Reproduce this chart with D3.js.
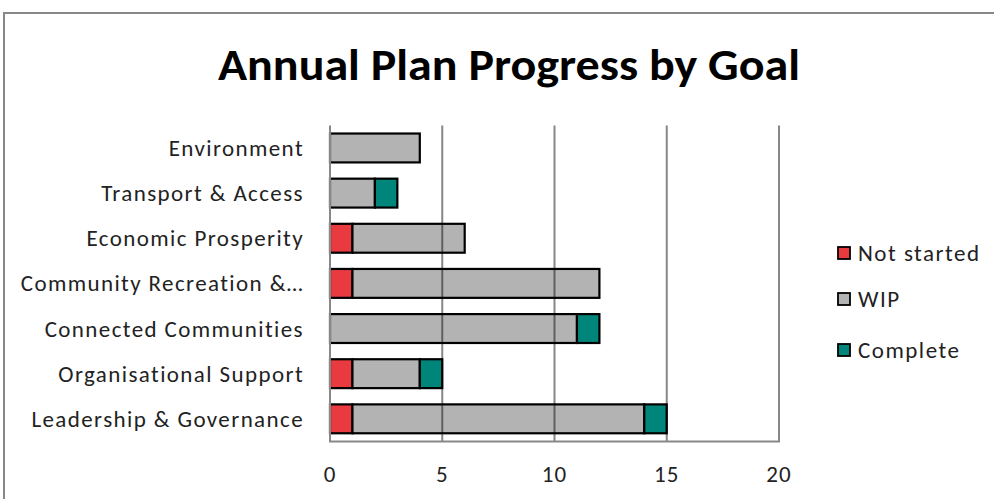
<!DOCTYPE html>
<html><head><meta charset="utf-8">
<script src="https://cdn.jsdelivr.net/npm/d3@7"></script>
<style>html,body{margin:0;padding:0;background:#fff;}svg{display:block;}</style>
</head><body><svg id="c" width="994" height="499"></svg>
<script>
const categories = ["Environment","Transport & Access","Economic Prosperity","Community Recreation &…","Connected Communities","Organisational Support","Leadership & Governance"];
const seriesNames = ["Not started","WIP","Complete"];
const notStarted = [0,0,1,1,0,1,1];
const wip = [4,2,5,11,11,3,13];
const complete = [0,1,0,0,1,1,1];
const xTicks = [0,5,10,15,20];
const colors = ["#E83A3F","#B3B3B3","#00857A"];
const title = "Annual Plan Progress by Goal";

const svg = d3.select("#c");
const font = "Carlito, Calibri, 'Open Sans', Lato, sans-serif";
const tfont = "Carlito, Calibri, Lato, 'Open Sans', sans-serif";
const m = {left:330, right:779, top:125.4, bottom:441.4};

// frame
svg.append("rect").attr("x",4).attr("y",13).attr("width",1100).attr("height",600)
  .attr("fill","#fff").attr("stroke","#888").attr("stroke-width",2);

// title
svg.append("text").attr("x",509).attr("y",80).attr("text-anchor","middle")
  .attr("font-family",tfont).attr("font-weight","bold").attr("font-size",45)
  .attr("textLength",582).attr("lengthAdjust","spacingAndGlyphs")
  .text(title);

const data = categories.map((c,i)=>({cat:c,"Not started":notStarted[i],"WIP":wip[i],"Complete":complete[i]}));
const stack = d3.stack().keys(seriesNames)(data);

const x = d3.scaleLinear().domain([0,20]).range([m.left,m.right]);
const y = d3.scaleBand().domain(categories).range([m.top,m.bottom]).paddingInner(0.36).paddingOuter(0.18);

// bars
stack.forEach((s,si)=>{
  svg.append("g").selectAll("rect").data(s.filter(d=>d[1]-d[0]>0)).join("rect")
    .attr("x",d=>x(d[0])).attr("width",d=>x(d[1])-x(d[0]))
    .attr("y",d=>y(d.data.cat)).attr("height",y.bandwidth())
    .attr("fill",colors[si]).attr("stroke","#000").attr("stroke-width",2.2);
});

// gridlines (drawn over, semi-transparent)
svg.append("g").selectAll("line").data(xTicks.filter(t=>t>0)).join("line")
  .attr("x1",d=>x(d)).attr("x2",d=>x(d)).attr("y1",m.top).attr("y2",m.bottom)
  .attr("stroke","rgba(0,0,0,0.47)").attr("stroke-width",2);
// axes lines
svg.append("line").attr("x1",x(0)).attr("x2",x(0)).attr("y1",m.top).attr("y2",m.bottom)
  .attr("stroke","#888").attr("stroke-width",2);
svg.append("line").attr("x1",x(0)-1).attr("x2",x(20)+1).attr("y1",m.bottom).attr("y2",m.bottom)
  .attr("stroke","#888").attr("stroke-width",2);

// x tick labels
svg.append("g").selectAll("text").data(xTicks).join("text")
  .attr("x",d=>x(d)).attr("y",482).attr("text-anchor","middle")
  .attr("font-family",font).attr("font-size",23).attr("letter-spacing",1).attr("fill","#222")
  .text(d=>d);

// category labels
svg.append("g").selectAll("text").data(categories).join("text")
  .attr("x",304).attr("y",d=>y(d)+y.bandwidth()/2+8).attr("text-anchor","end")
  .attr("font-family",font).attr("font-size",23).attr("letter-spacing",1.4).attr("fill","#222")
  .text(d=>d);

// legend
const lg = svg.append("g");
const ly = [253,299,350];
seriesNames.forEach((n,i)=>{
  lg.append("rect").attr("x",838).attr("y",ly[i]-6).attr("width",12).attr("height",12)
    .attr("fill",colors[i]).attr("stroke","#000").attr("stroke-width",1.8);
  lg.append("text").attr("x",858).attr("y",ly[i]+8).attr("font-family",font).attr("font-size",23)
    .attr("letter-spacing",1.5).attr("fill","#222").text(n);
});
</script></body></html>
